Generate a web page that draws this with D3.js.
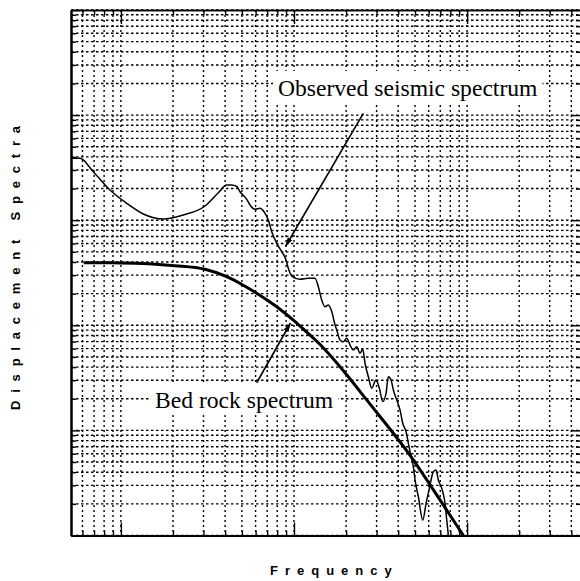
<!DOCTYPE html>
<html>
<head>
<meta charset="utf-8">
<script src="https://cdn.jsdelivr.net/npm/d3@7"></script>
<style>
  html, body { margin: 0; padding: 0; background: #fff; }
  svg { display: block; }
</style>
</head>
<body>
<div id="chart"></div>
<script>
// ---- Data ----
const observedFreq = [0.52, 0.58, 0.693, 0.865, 1.08, 1.347, 1.758, 2.294, 3.062, 3.654, 4.087, 4.368, 4.669, 4.878, 5.333, 5.572, 5.955, 6.365, 6.713, 7.108, 7.436, 7.947, 8.495, 8.995, 9.274, 9.703, 10.83, 12.10, 13.23, 13.82, 14.46, 15.11, 15.79, 16.52, 17.26, 17.66, 18.45, 19.28, 20.17, 21.08, 22.02, 23.04, 24.07, 24.95, 25.73, 26.89, 28.12, 29.78, 31.12, 32.56, 34.02, 35.08, 36.37, 37.50, 39.54, 41.00, 42.49, 44.40, 45.78, 47.27, 48.93, 50.05, 52.30, 55.45, 57.94, 60.53, 63.83, 66.17, 68.22, 71.38, 74.58, 76.28, 77.93];
const observedAmp = [3882, 3882, 2892, 1937, 1449, 1146, 1027, 1121, 1365, 1827, 2162, 2162, 2093, 1867, 1581, 1395, 1270, 1298, 1205, 1004, 777, 603, 502, 418, 349, 294, 274, 280, 280, 233, 174, 150, 156, 135, 101, 90.2, 72.5, 69.8, 75.2, 64.9, 58.2, 62.6, 54.2, 59.1, 43.5, 32.4, 25.2, 30.2, 25.2, 18.8, 22.5, 32.4, 30.2, 24.2, 18.8, 15.6, 11.7, 9.72, 7.54, 5.83, 4.51, 3.37, 2.34, 1.40, 2.02, 2.81, 4.05, 4.20, 3.37, 2.81, 2.02, 1.40, 1.0];

const bedrockFreq = [0.61, 1.0, 2.05, 3.06, 4.09, 5.06, 6.09, 7.95, 9.91, 11.85, 14.1, 20.2, 26.3, 47.5, 72.9, 95.2];
const bedrockAmp  = [394, 392, 369, 341, 290, 242, 202, 150, 112, 86, 66, 33.7, 19.5, 5.6, 1.95, 1.0];

const freqDomain = [0.515, 455];
const ampDomain = [1, 1e5];

// annotations: label text, label anchor (freq, amp), arrow tail and head (freq, amp)
const annotLabels = ["Observed seismic spectrum", "Bed rock spectrum"];
const annotLabelFreq = [8.08, 1.574];
const annotLabelAmp = [15195, 16.3];
const annotTailFreq = [25.15, 6.09];
const annotTailAmp = [10402, 28.4];
const annotHeadFreq = [8.93, 9.55];
const annotHeadAmp = [562, 105.2];

const xTitle = "Frequency";
const yTitle = "Displacement Spectra";

// ---- Layout ----
const W = 580, H = 581;
const svg = d3.select("#chart").append("svg").attr("width", W).attr("height", H);

const x = d3.scaleLog().domain(freqDomain).range([71, 581]);
const y = d3.scaleLog().domain(ampDomain).range([535.5, 10]);

const [x0, x1] = x.range();
const [y0, y1] = y.range();

const isDecade = v => Math.abs(Math.log10(v) - Math.round(Math.log10(v))) < 1e-9;
const xTicks = x.ticks();
const yTicks = y.ticks();

// ---- Grid ----
const grid = svg.append("g").attr("stroke", "#000").attr("fill", "none");
grid.selectAll("line.v").data(xTicks).join("line").attr("class", "v")
  .attr("x1", d => x(d)).attr("x2", d => x(d))
  .attr("y1", y1).attr("y2", y0)
  .attr("stroke-width", 1.4).attr("stroke-dasharray", "2,3");
grid.selectAll("line.h").data(yTicks).join("line").attr("class", "h")
  .attr("y1", d => y(d)).attr("y2", d => y(d))
  .attr("x1", x0).attr("x2", x1)
  .attr("stroke-width", 1.4).attr("stroke-dasharray", "2.5,2.5");

// ---- Annotation text (with white backing) ----
const annG = svg.append("g");
annotLabels.forEach((t, i) => {
  const g = annG.append("g");
  const rect = g.append("rect").attr("fill", "#fff");
  const txt = g.append("text")
    .attr("x", x(annotLabelFreq[i])).attr("y", y(annotLabelAmp[i]))
    .attr("font-family", "'Liberation Serif', 'Times New Roman', serif")
    .attr("font-size", 23.6).attr("fill", "#000").text(t);
  const bb = txt.node().getBBox();
  rect.attr("x", bb.x - 5).attr("y", bb.y - 4).attr("width", bb.width + 10).attr("height", bb.height + 6);
});

// ---- Axes (inward ticks, no labels) ----
const xMajor = xTicks.filter(isDecade), xMinor = xTicks.filter(d => !isDecade(d));
const yMajor = yTicks.filter(isDecade), yMinor = yTicks.filter(d => !isDecade(d));

function styleAxis(g, w) {
  g.selectAll("text").remove();
  g.selectAll("line").attr("stroke", "#000").attr("stroke-width", 1.4);
  g.select(".domain").attr("stroke", "#000").attr("stroke-width", w);
}
// bottom
svg.append("g").attr("transform", `translate(0,${y0})`)
  .call(d3.axisBottom(x).tickValues(xMinor).tickSize(-5).tickSizeOuter(0).tickFormat(""))
  .call(g => styleAxis(g, 2));
svg.append("g").attr("transform", `translate(0,${y0})`)
  .call(d3.axisBottom(x).tickValues(xMajor).tickSize(-13).tickSizeOuter(0).tickFormat(""))
  .call(g => styleAxis(g, 2));
// top
svg.append("g").attr("transform", `translate(0,${y1})`)
  .call(d3.axisTop(x).tickValues(xMinor).tickSize(-5).tickSizeOuter(0).tickFormat(""))
  .call(g => styleAxis(g, 1.6));
svg.append("g").attr("transform", `translate(0,${y1})`)
  .call(d3.axisTop(x).tickValues(xMajor).tickSize(-14).tickSizeOuter(0).tickFormat(""))
  .call(g => styleAxis(g, 1.6));
// left
svg.append("g").attr("transform", `translate(${x0},0)`)
  .call(d3.axisLeft(y).tickValues(yMinor).tickSize(-5).tickSizeOuter(0).tickFormat(""))
  .call(g => styleAxis(g, 2));
svg.append("g").attr("transform", `translate(${x0},0)`)
  .call(d3.axisLeft(y).tickValues(yMajor).tickSize(-9).tickSizeOuter(0).tickFormat(""))
  .call(g => styleAxis(g, 2));
// right
svg.append("g").attr("transform", `translate(${x1},0)`)
  .call(d3.axisRight(y).tickValues(yMinor).tickSize(-5).tickSizeOuter(0).tickFormat(""))
  .call(g => styleAxis(g, 2));
svg.append("g").attr("transform", `translate(${x1},0)`)
  .call(d3.axisRight(y).tickValues(yMajor).tickSize(-10).tickSizeOuter(0).tickFormat(""))
  .call(g => styleAxis(g, 2));

// ---- Curves ----
svg.append("clipPath").attr("id", "plotclip").append("rect")
  .attr("x", x0).attr("y", y1).attr("width", x1 - x0).attr("height", y0 - y1 + 1);

const line = d3.line().x(d => x(d[0])).y(d => y(d[1])).curve(d3.curveMonotoneX);

svg.append("path")
  .datum(observedFreq.map((f, i) => [f, observedAmp[i]]))
  .attr("clip-path", "url(#plotclip)")
  .attr("d", line).attr("fill", "none").attr("stroke", "#000")
  .attr("stroke-width", 1.5).attr("stroke-linejoin", "round");

svg.append("path")
  .datum(bedrockFreq.map((f, i) => [f, bedrockAmp[i]]))
  .attr("clip-path", "url(#plotclip)")
  .attr("d", line).attr("fill", "none").attr("stroke", "#000")
  .attr("stroke-width", 3).attr("stroke-linejoin", "round");

// ---- Arrows ----
svg.append("defs").append("marker")
  .attr("id", "arrowhead").attr("viewBox", "0 0 10 6")
  .attr("refX", 10).attr("refY", 3)
  .attr("markerWidth", 9).attr("markerHeight", 5.5)
  .attr("markerUnits", "userSpaceOnUse")
  .attr("orient", "auto")
  .append("path").attr("d", "M0,0 L10,3 L0,6 Z").attr("fill", "#000");

svg.append("g").selectAll("line").data(annotLabels).join("line")
  .attr("x1", (d, i) => x(annotTailFreq[i])).attr("y1", (d, i) => y(annotTailAmp[i]))
  .attr("x2", (d, i) => x(annotHeadFreq[i])).attr("y2", (d, i) => y(annotHeadAmp[i]))
  .attr("stroke", "#000").attr("stroke-width", 1.6)
  .attr("marker-end", "url(#arrowhead)");

// ---- Axis titles ----
svg.append("text")
  .attr("x", 270).attr("y", 575)
  .attr("font-family", "'Liberation Sans', Arial, sans-serif")
  .attr("font-size", 13).attr("font-weight", "bold")
  .attr("letter-spacing", 7).attr("fill", "#000")
  .text(xTitle);

svg.append("text")
  .attr("transform", "translate(20,410) rotate(-90)")
  .attr("font-family", "'Liberation Sans', Arial, sans-serif")
  .attr("font-size", 13).attr("font-weight", "bold")
  .attr("letter-spacing", 7.8).attr("fill", "#000")
  .text(yTitle);
</script>
</body>
</html>
